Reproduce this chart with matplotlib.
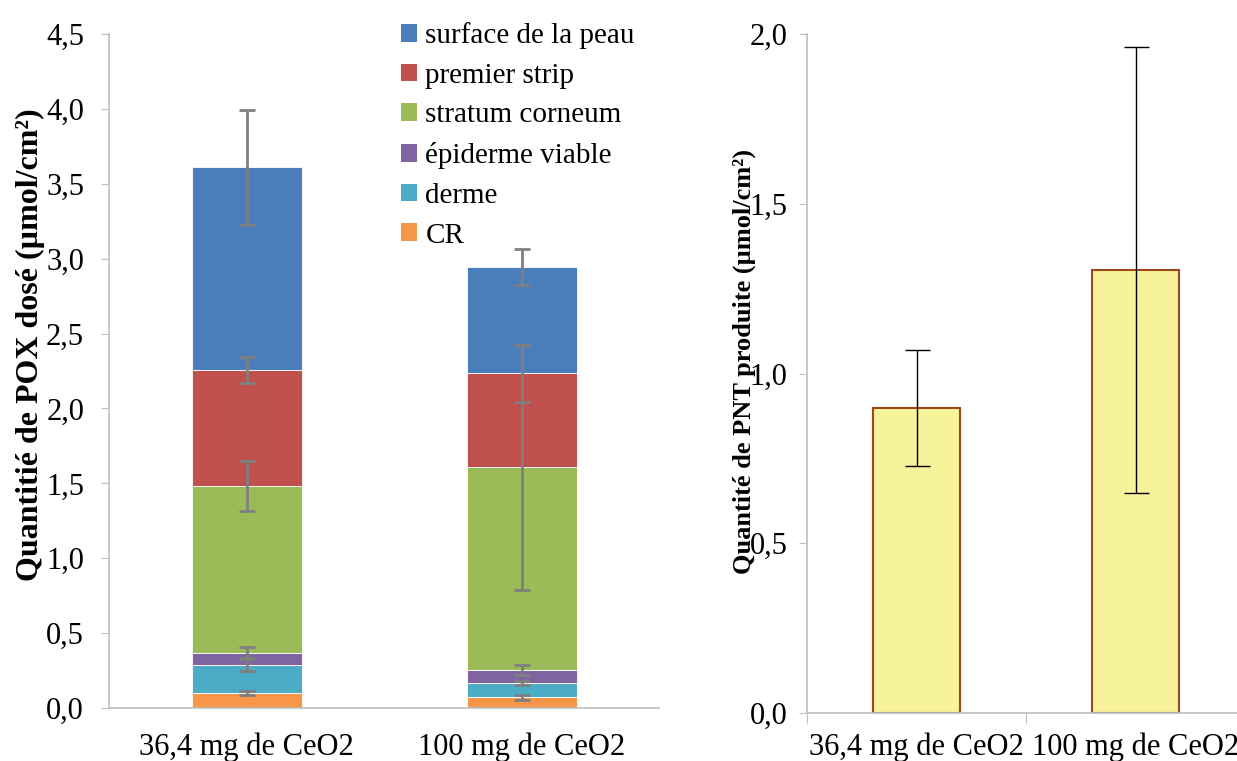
import numpy as np
import matplotlib
matplotlib.use("Agg")
import matplotlib.pyplot as plt
from matplotlib.patches import Patch

plt.rcParams["font.family"] = ["Liberation Serif", "DejaVu Serif"]

# -----------------------------
# DATA
# -----------------------------
categories = ["36,4 mg de CeO2", "100 mg de CeO2"]

# stacked layers, bottom to top
layers = ["CR", "derme", "épiderme viable", "stratum corneum", "premier strip", "surface de la peau"]
layer_colors = ["#f79646", "#4bacc6", "#8064a2", "#9bbb59", "#c0504d", "#4a7ebb"]
pox_values = [
    [0.10, 0.071],   # CR
    [0.187, 0.094],  # derme
    [0.082, 0.089],  # épiderme viable
    [1.115, 1.352],  # stratum corneum
    [0.770, 0.628],  # premier strip
    [1.355, 0.712],  # surface de la peau
]
pox_errors = [
    [0.012, 0.017],
    [0.040, 0.012],
    [0.035, 0.033],
    [0.168, 0.820],
    [0.087, 0.190],
    [0.385, 0.120],
]

pnt_values = [0.898, 1.305]
pnt_errors = [0.170, 0.657]

# -----------------------------
# FIGURE
# -----------------------------
fig = plt.figure(figsize=(12.37, 7.61), dpi=100)
axis_gray = "#bfbfbf"
tick_size = 22

ax1 = fig.add_axes([109 / 1237, 1 - 708 / 761, 550 / 1237, 674 / 761])
x = np.arange(len(categories))
bottom = np.zeros(len(categories))
for name, vals, errs, col in zip(layers, pox_values, pox_errors, layer_colors):
    vals = np.array(vals)
    ax1.bar(x, vals, width=0.4, bottom=bottom, color=col, label=name,
            edgecolor="white", linewidth=0.6, zorder=2)
    ax1.errorbar(x, bottom + vals, yerr=errs, fmt="none", ecolor="#7f7f7f",
                 elinewidth=2, capsize=6, capthick=2, zorder=3)
    bottom += vals

ax1.set_xlim(-0.5, 1.5)
ax1.set_ylim(0, 4.5)
ax1.set_yticks(np.arange(0, 4.51, 0.5))
ax1.set_yticklabels([f"{v:.1f}".replace(".", ",") for v in np.arange(0, 4.51, 0.5)])
ax1.set_xticks(x)
ax1.set_xticklabels(categories)
ax1.tick_params(axis="y", length=6, color=axis_gray, labelsize=tick_size, pad=12)
ax1.tick_params(axis="x", length=0, labelsize=tick_size, pad=18)
for s in ["top", "right"]:
    ax1.spines[s].set_visible(False)
ax1.spines["left"].set_color(axis_gray)
ax1.spines["bottom"].set_color(axis_gray)
ax1.spines["left"].set_linewidth(1.2)
ax1.spines["bottom"].set_linewidth(1.2)

handles = [Patch(facecolor=c, label=l) for l, c in zip(layers, layer_colors)][::-1]
ax1.legend(handles=handles, loc="upper left", bbox_to_anchor=(0.509, 1.035),
           frameon=False, fontsize=21, handlelength=0.55, handleheight=0.55,
           handletextpad=0.3, labelspacing=0.47, borderaxespad=0)

fig.text(30 / 1237, 1 - 345 / 761, "Quantitié de POX dosé (µmol/cm²)",
         rotation=90, ha="center", va="center", fontsize=23, fontweight="bold")

# -----------------------------
# RIGHT PANEL
# -----------------------------
ax2 = fig.add_axes([807 / 1237, 1 - 713 / 761, 438 / 1237, 679 / 761])
ax2.bar(x, pnt_values, width=0.4, color="#f7f39a", edgecolor="#a0461e",
        linewidth=1.5, zorder=2)
ax2.errorbar(x, pnt_values, yerr=pnt_errors, fmt="none", ecolor="black",
             elinewidth=1, capsize=9, capthick=1, zorder=3)
ax2.set_xlim(-0.5, 1.5)
ax2.set_ylim(0, 2.0)
ax2.set_yticks(np.arange(0, 2.01, 0.5))
ax2.set_yticklabels([f"{v:.1f}".replace(".", ",") for v in np.arange(0, 2.01, 0.5)])
ax2.set_xticks([-0.5, 0.5, 1.5])
ax2.set_xticklabels([])
ax2.set_xticks(x, minor=True)
ax2.set_xticklabels(categories, minor=True)
ax2.tick_params(axis="x", which="major", length=7, color=axis_gray)
ax2.tick_params(axis="x", which="minor", length=0, labelsize=tick_size, pad=14)
ax2.tick_params(axis="y", length=6, color=axis_gray, labelsize=tick_size, pad=8)
for s in ["top", "right"]:
    ax2.spines[s].set_visible(False)
ax2.spines["left"].set_color(axis_gray)
ax2.spines["bottom"].set_color(axis_gray)
ax2.spines["left"].set_linewidth(1.2)
ax2.spines["bottom"].set_linewidth(1.2)

fig.text(744 / 1237, 1 - 362 / 761, "Quantité de PNT produite (µmol/cm²)",
         rotation=90, ha="center", va="center", fontsize=19, fontweight="bold")

fig.savefig("out.png", dpi=100)
